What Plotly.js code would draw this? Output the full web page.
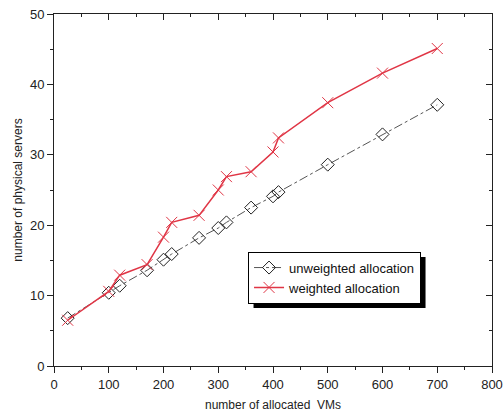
<!DOCTYPE html>
<html>
<head>
<meta charset="utf-8">
<script src="https://cdn.plot.ly/plotly-3.0.1.min.js"></script>
<style>html,body{margin:0;padding:0;background:#fff;}#chart{width:503px;height:414px;}</style>
</head>
<body>
<div id="chart"></div>
<script>
const vmCounts = [25, 100, 120, 170, 200, 215, 265, 300, 315, 360, 400, 410, 500, 600, 700];
const unweightedServers = [6.8, 10.4, 11.4, 13.6, 15.1, 15.9, 18.2, 19.6, 20.4, 22.5, 24.1, 24.7, 28.6, 32.9, 37.1];
const weightedServers = [6.5, 10.6, 12.9, 14.4, 18.3, 20.4, 21.4, 25.0, 26.9, 27.6, 30.4, 32.4, 37.4, 41.6, 45.1];
const seriesNames = ['unweighted allocation', 'weighted allocation'];
const xTitle = 'number of allocated  VMs';
const yTitle = 'number of physical servers';

const font = 'Liberation Sans, Arial, sans-serif';
const traces = [
  {
    x: vmCounts, y: unweightedServers, name: seriesNames[0], type: 'scatter', mode: 'lines+markers',
    line: {color: '#555555', width: 1, dash: 'dashdot'},
    marker: {symbol: 'diamond-open', size: 10, color: '#222222', line: {width: 1, color: '#222222'}}
  },
  {
    x: vmCounts, y: weightedServers, name: seriesNames[1], type: 'scatter', mode: 'lines+markers',
    line: {color: '#e03545', width: 1.5},
    marker: {symbol: 'x-thin-open', size: 11, color: '#e03545', line: {width: 1, color: '#e03545'}}
  },
  {x: [], y: [], xaxis: 'x2', yaxis: 'y2', showlegend: false, hoverinfo: 'skip'}
];

const axisCommon = {
  showgrid: false, zeroline: false, showline: true, linecolor: '#222', linewidth: 1,
  tickcolor: '#222', tickfont: {family: font, size: 13, color: '#222'}
};

const layout = {
  width: 503, height: 414,
  margin: {l: 54, r: 11, t: 14, b: 48},
  paper_bgcolor: '#fff', plot_bgcolor: '#fff',
  showlegend: true,
  legend: {
    x: 0.443, y: 0.325, xanchor: 'left', yanchor: 'top',
    bgcolor: '#fff', bordercolor: '#000', borderwidth: 1,
    font: {family: font, size: 13, color: '#111'},
    tracegroupgap: 0, itemwidth: 30
  },
  xaxis: Object.assign({}, axisCommon, {
    range: [0, 800], dtick: 100, ticks: 'outside', ticklen: 6,
    minor: {ticks: 'outside', dtick: 50, ticklen: 3, tickcolor: '#222'},
    title: {text: xTitle, font: {family: font, size: 12, color: '#222'}, standoff: 10}
  }),
  yaxis: Object.assign({}, axisCommon, {
    range: [0, 50], dtick: 10, ticks: 'outside', ticklen: 6,
    minor: {ticks: 'outside', dtick: 5, ticklen: 3, tickcolor: '#222'},
    title: {text: yTitle, font: {family: font, size: 12, color: '#222'}, standoff: 4}
  }),
  xaxis2: Object.assign({}, axisCommon, {
    range: [0, 800], dtick: 100, ticks: 'inside', ticklen: 6, side: 'top', overlaying: 'x', anchor: 'y2',
    showticklabels: false,
    minor: {ticks: 'inside', dtick: 50, ticklen: 3, tickcolor: '#222'}
  }),
  yaxis2: Object.assign({}, axisCommon, {
    range: [0, 50], dtick: 10, ticks: 'inside', ticklen: 6, side: 'right', overlaying: 'y', anchor: 'x2',
    showticklabels: false,
    minor: {ticks: 'inside', dtick: 5, ticklen: 3, tickcolor: '#222'}
  }),
  shapes: []
};

Plotly.newPlot('chart', traces, layout, {displayModeBar: false, staticPlot: true}).then(function (gd) {
  const bg = gd.querySelector('.legend .bg');
  if (!bg) return;
  const r = bg.getBoundingClientRect();
  const c = gd.getBoundingClientRect();
  const fl = gd._fullLayout;
  const off = 5;
  const px2x = function (px) { return (px - c.left - fl._size.l) / fl._size.w; };
  const px2y = function (py) { return 1 - (py - c.top - fl._size.t) / fl._size.h; };
  return Plotly.relayout(gd, {shapes: [{
    type: 'rect', xref: 'paper', yref: 'paper', layer: 'below',
    x0: px2x(r.left + off), x1: px2x(r.right + off),
    y0: px2y(r.bottom + off), y1: px2y(r.top + off),
    fillcolor: '#000', line: {width: 0}
  }]});
});
</script>
</body>
</html>
